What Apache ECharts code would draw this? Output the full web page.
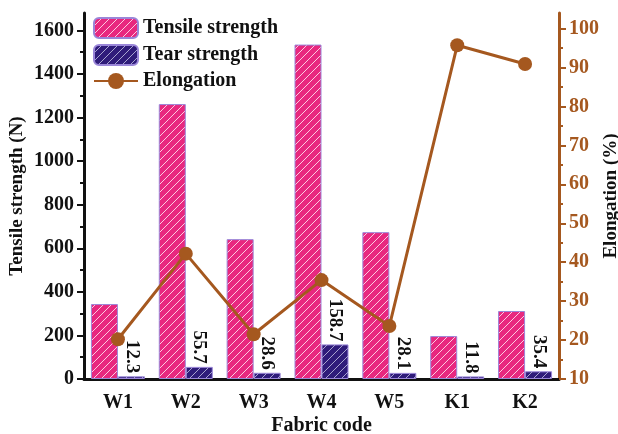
<!DOCTYPE html>
<html>
<head>
<meta charset="utf-8">
<script src="https://cdn.jsdelivr.net/npm/echarts@6/dist/echarts.min.js"></script>
<style>html,body{margin:0;padding:0;background:#fff}#c{width:618px;height:434px}</style>
</head>
<body>
<div id="c"></div>
<script>
const categories = ['W1','W2','W3','W4','W5','K1','K2'];
const tensile = [344, 1262, 642, 1535, 674, 197, 312];
const tear = [12.3, 55.7, 28.6, 158.7, 28.1, 11.8, 35.4];
const elongation = [20.2, 42.2, 21.5, 35.4, 23.6, 95.7, 90.9];
const leftTicks = [0,200,400,600,800,1000,1200,1400,1600];
const rightTicks = [10,20,30,40,50,60,70,80,90,100];

function hatch(bg, line) {
  const c = document.createElement('canvas');
  c.width = 8; c.height = 8;
  const g = c.getContext('2d');
  g.fillStyle = bg; g.fillRect(0,0,8,8);
  g.strokeStyle = line; g.lineWidth = 1;
  g.beginPath();
  g.moveTo(-1,9); g.lineTo(9,-1);
  g.moveTo(-5,5); g.lineTo(5,-5);
  g.moveTo(3,13); g.lineTo(13,3);
  g.stroke();
  return {image: c, repeat: 'repeat'};
}
const FONT = '"Liberation Serif", "Times New Roman", serif';
const FS = 20;
const brown = '#A5581F';
const chart = echarts.init(document.getElementById('c'));
chart.setOption({
  animation: false,
  backgroundColor: '#fff',
  textStyle: {fontFamily: FONT, fontWeight: 'bold'},
  grid: {left: 84, right: 59, top: 13, bottom: 55, containLabel: false, outerBoundsMode: 'none'},
  legend: {
    left: 93, top: 17, padding: 0, orient: 'vertical', itemWidth: 44, itemHeight: 20, itemGap: 5,
    textStyle: {fontFamily: FONT, fontWeight: 'bold', fontSize: FS, color: '#111'},
    data: ['Tensile strength', 'Tear strength', 'Elongation']
  },
  xAxis: [{
    type: 'category', data: categories,
    name: 'Fabric code', nameLocation: 'middle', nameGap: 37, nameMoveOverlap: false,
    nameTextStyle: {fontFamily: FONT, fontWeight: 'bold', fontSize: FS, color: '#111'},
    axisLine: {lineStyle: {color: '#111', width: 3}},
    axisTick: {alignWithLabel: true, length: 7, lineStyle: {width: 2, color: '#111'}},
    axisLabel: {fontFamily: FONT, fontWeight: 'bold', fontSize: FS, color: '#111', margin: 14}
  }, {
    type: 'category', data: categories, position: 'bottom',
    axisLine: {show: false}, axisLabel: {show: false},
    axisTick: {length: 4, lineStyle: {width: 2, color: '#111'}}
  }],
  yAxis: [{
    type: 'value', min: 0, max: 1680, interval: 200,
    name: 'Tensile strength (N)', nameLocation: 'middle', nameGap: 57, nameMoveOverlap: false,
    nameTextStyle: {fontFamily: FONT, fontWeight: 'bold', fontSize: FS - 1, color: '#111'},
    axisLine: {show: true, lineStyle: {color: '#111', width: 3}},
    axisTick: {show: true, length: 7, customValues: leftTicks, lineStyle: {width: 2, color: '#111'}},
    minorTick: {show: true, splitNumber: 2, length: 4, lineStyle: {width: 2, color: '#111'}},
    splitLine: {show: false},
    axisLabel: {customValues: leftTicks, formatter: v => String(v), fontFamily: FONT, fontWeight: 'bold', fontSize: FS, color: '#111', margin: 10}
  }, {
    type: 'value', min: 10, max: 104, interval: 10, position: 'right',
    name: 'Elongation (%)', nameLocation: 'middle', nameGap: 43, nameMoveOverlap: false,
    nameTextStyle: {fontFamily: FONT, fontWeight: 'bold', fontSize: FS - 1, color: '#111'},
    axisLine: {show: true, lineStyle: {color: brown, width: 3}},
    axisTick: {show: true, length: 7, customValues: rightTicks, lineStyle: {width: 2, color: brown}},
    minorTick: {show: true, splitNumber: 2, length: 4, lineStyle: {width: 2, color: brown}},
    splitLine: {show: false},
    axisLabel: {customValues: rightTicks, fontFamily: FONT, fontWeight: 'bold', fontSize: FS, color: brown, margin: 10}
  }],
  series: [{
    name: 'Tensile strength', type: 'bar', data: tensile, barWidth: 27, barGap: '0%',
    itemStyle: {color: hatch('#E8287F', 'rgba(255,220,235,0.9)'), borderColor: '#9A86D8', borderWidth: 1}
  }, {
    name: 'Tear strength', type: 'bar', data: tear, barWidth: 27, barGap: '0%',
    itemStyle: {color: hatch('#2F1C7A', 'rgba(200,200,230,0.8)'), borderColor: '#9A86D8', borderWidth: 1},
    label: {show: true, position: 'top', rotate: -90, align: 'right', verticalAlign: 'middle', distance: 3,
      fontFamily: FONT, fontWeight: 'bold', fontSize: 19, color: '#111'}
  }, {
    name: 'Elongation', type: 'line', yAxisIndex: 1, data: elongation, z: 5,
    symbol: 'circle', symbolSize: 14,
    lineStyle: {color: brown, width: 3}, itemStyle: {color: brown}
  }]
});
</script>
</body>
</html>
